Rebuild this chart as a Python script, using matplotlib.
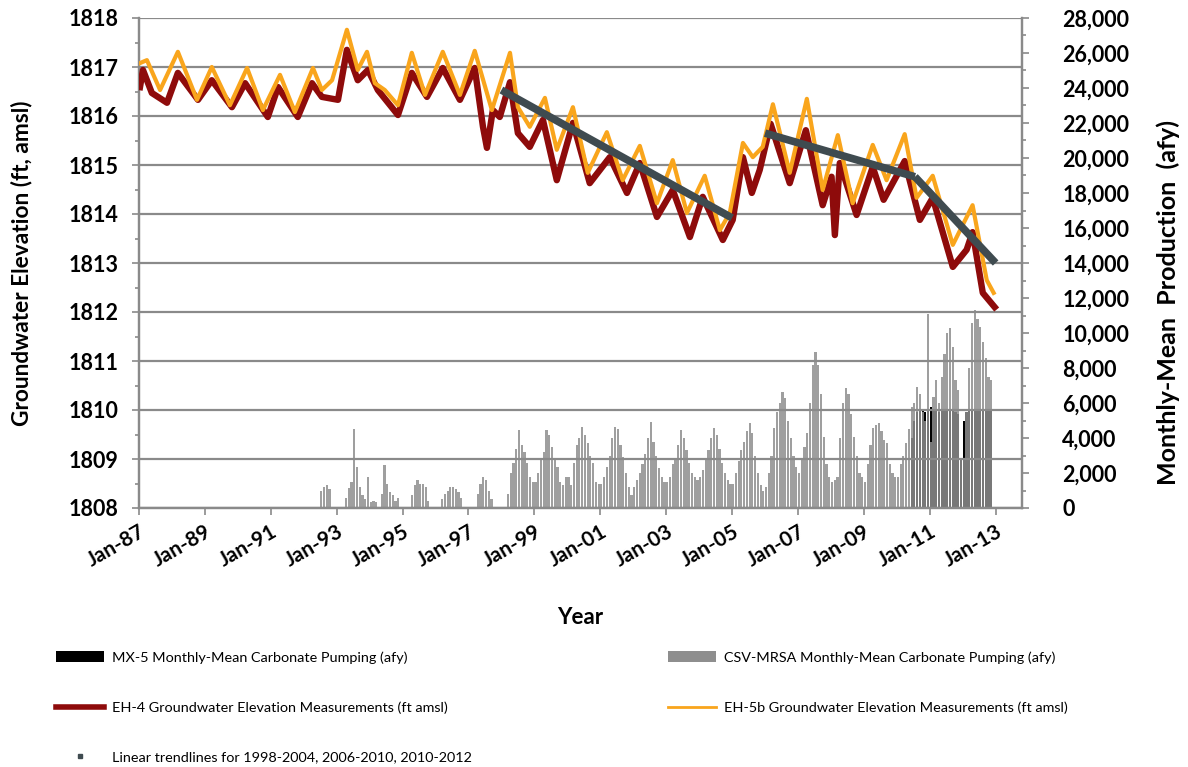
import matplotlib.pyplot as plt
from matplotlib.lines import Line2D
from matplotlib.patches import Patch
from matplotlib.ticker import FuncFormatter, MultipleLocator

plt.rcParams['font.family'] = ['Lato', 'DejaVu Sans']

# EH-4 groundwater elevation (decimal year, ft amsl)
eh4_years = [1987.03, 1987.12, 1987.39, 1987.85, 1988.18, 1988.79, 1989.21, 1989.82,
             1990.22, 1990.91, 1991.22, 1991.82, 1992.25, 1992.55, 1993.04, 1993.31,
             1993.64, 1993.95, 1994.25, 1994.86, 1995.28, 1995.74, 1996.22, 1996.74,
             1997.19, 1997.44, 1997.56, 1997.74, 1997.95, 1998.26, 1998.50, 1998.86,
             1999.26, 1999.68, 2000.17, 2000.68, 2001.29, 2001.81, 2002.20, 2002.72,
             2003.20, 2003.72, 2004.11, 2004.54, 2004.72, 2005.02, 2005.33, 2005.60,
             2005.84, 2006.17, 2006.75, 2007.24, 2007.75, 2008.02, 2008.12, 2008.27,
             2008.78, 2009.27, 2009.60, 2010.24, 2010.70, 2011.09, 2011.70, 2012.12,
             2012.30, 2012.61, 2012.97]
eh4_elev = [1816.59, 1816.94, 1816.47, 1816.27, 1816.88, 1816.33, 1816.73, 1816.18,
            1816.67, 1815.98, 1816.59, 1815.98, 1816.67, 1816.39, 1816.33, 1817.35,
            1816.73, 1816.94, 1816.53, 1816.02, 1816.88, 1816.39, 1816.98, 1816.33,
            1816.98, 1815.78, 1815.35, 1816.12, 1815.98, 1816.69, 1815.65, 1815.37,
            1815.92, 1814.69, 1815.86, 1814.63, 1815.16, 1814.43, 1815.04, 1813.94,
            1814.49, 1813.53, 1814.35, 1813.73, 1813.47, 1813.88, 1815.16, 1814.43,
            1814.90, 1815.84, 1814.63, 1815.71, 1814.18, 1814.76, 1813.57, 1815.04,
            1813.98, 1814.96, 1814.29, 1815.08, 1813.88, 1814.33, 1812.92, 1813.27,
            1813.63, 1812.39, 1812.10]

# EH-5b groundwater elevation (decimal year, ft amsl)
eh5b_years = [1987.03, 1987.24, 1987.64, 1988.18, 1988.76, 1989.21, 1989.76, 1990.28,
              1990.76, 1991.28, 1991.73, 1992.28, 1992.55, 1992.86, 1993.31, 1993.64,
              1993.92, 1994.16, 1994.46, 1994.86, 1995.28, 1995.68, 1996.22, 1996.74,
              1997.19, 1997.71, 1998.26, 1998.50, 1998.86, 1999.32, 1999.68, 2000.17,
              2000.62, 2001.20, 2001.68, 2002.20, 2002.72, 2003.20, 2003.63, 2004.17,
              2004.63, 2004.93, 2005.33, 2005.63, 2005.93, 2006.24, 2006.75, 2007.27,
              2007.75, 2008.21, 2008.66, 2009.27, 2009.69, 2010.24, 2010.60, 2011.09,
              2011.70, 2012.30, 2012.73, 2012.94]
eh5b_elev = [1817.08, 1817.14, 1816.53, 1817.31, 1816.33, 1817.00, 1816.22, 1816.98,
             1816.12, 1816.84, 1816.08, 1816.98, 1816.53, 1816.73, 1817.76, 1816.94,
             1817.31, 1816.67, 1816.53, 1816.22, 1817.29, 1816.43, 1817.31, 1816.43,
             1817.33, 1816.12, 1817.29, 1816.18, 1815.78, 1816.37, 1815.31, 1816.18,
             1814.84, 1815.67, 1814.69, 1815.39, 1814.22, 1815.10, 1814.02, 1814.78,
             1813.67, 1814.02, 1815.45, 1815.16, 1815.37, 1816.24, 1814.84, 1816.35,
             1814.49, 1815.61, 1814.22, 1815.41, 1814.69, 1815.63, 1814.33, 1814.78,
             1813.37, 1814.18, 1812.65, 1812.39]

# linear trendlines: 1998-2004, 2006-2010, 2010-2012
trend_years = [[1998.0, 2005.0], [2006.0, 2010.55], [2010.55, 2013.0]]
trend_elev = [[1816.53, 1813.92], [1815.65, 1814.76], [1814.76, 1813.0]]

# CSV-MRSA monthly-mean carbonate pumping (afy), Jan 1992 - Dec 2012
csv_start = 1992
csv_mrsa = [
    0, 0, 0, 0, 0, 0, 1000, 1200, 1300, 1100, 0, 0,                          # 1992
    0, 0, 0, 600, 1150, 1500, 4500, 2350, 1200, 750, 500, 1750,              # 1993
    350, 400, 350, 0, 800, 2450, 1400, 900, 750, 400, 600, 0,                # 1994
    0, 0, 0, 750, 1300, 1600, 1400, 1400, 1200, 400, 0, 0,                   # 1995
    0, 0, 500, 800, 1000, 1200, 1200, 1100, 900, 600, 0, 0,                  # 1996
    0, 0, 0, 800, 1400, 1750, 1600, 1000, 500, 0, 0, 0,                      # 1997
    0, 0, 800, 2000, 2550, 3400, 4450, 3600, 3200, 2550, 1800, 1500,         # 1998
    1500, 2000, 2750, 3200, 4450, 4200, 3500, 2800, 2350, 1500, 1300, 1750,  # 1999
    1800, 1300, 2600, 3600, 4000, 4650, 4200, 3700, 3000, 2550, 1500, 1400,  # 2000
    1400, 1800, 2350, 3000, 4000, 4650, 4500, 3600, 2900, 2000, 1200, 750,   # 2001
    1200, 1600, 2000, 2500, 3100, 4000, 4900, 3800, 3000, 2300, 1750, 1500,  # 2002
    1500, 1800, 2500, 2750, 3600, 4450, 4000, 3300, 2600, 2000, 1750, 1600,  # 2003
    1800, 2200, 2750, 3300, 4000, 4550, 4200, 3400, 2600, 2000, 1600, 1400,  # 2004
    1400, 2000, 2700, 3300, 3800, 4400, 4850, 4300, 3000, 2000, 1300, 1000,  # 2005
    1200, 2000, 3000, 4600, 5500, 6000, 6650, 6300, 5000, 4000, 3000, 2350,  # 2006
    2000, 2800, 3500, 4300, 6000, 8200, 8900, 8150, 6500, 4050, 2500, 1800,  # 2007
    1500, 1600, 1750, 4000, 6000, 6850, 6500, 5400, 4050, 3000, 2000, 1750,  # 2008
    1500, 2500, 3600, 4600, 4750, 4850, 4400, 3900, 3700, 2500, 2000, 1750,  # 2009
    1750, 2500, 3000, 3700, 4500, 5800, 6000, 6900, 6500, 5500, 5000, 11100, # 2010
    3800, 6350, 7300, 6000, 7500, 8800, 10000, 10300, 9200, 7300, 6750, 2750, # 2011
    2750, 5500, 8000, 10550, 11300, 10800, 10350, 9500, 8550, 7500, 7300, 0,  # 2012
]

# MX-5 monthly-mean carbonate pumping (afy), Jan 2010 - Dec 2012
mx5_start = 2010
mx5 = [
    0, 0, 0, 0, 0, 4000, 5000, 5500, 5600, 5600, 5500, 5600,                 # 2010
    5800, 5600, 5600, 5500, 5600, 5600, 5600, 5600, 5600, 5500, 5400, 2800,  # 2011
    5000, 5500, 5600, 5600, 5600, 5600, 5600, 5600, 5600, 5600, 5600, 0,     # 2012
]

tick_years = list(range(1987, 2014, 2))
tick_labels = ['Jan-87', 'Jan-89', 'Jan-91', 'Jan-93', 'Jan-95', 'Jan-97', 'Jan-99',
               'Jan-01', 'Jan-03', 'Jan-05', 'Jan-07', 'Jan-09', 'Jan-11', 'Jan-13']

grid_gray = '#8a8a8a'
red = '#8e0b0b'
orange = '#f9a51c'
trend_col = '#3f4b50'
bar_gray = '#8e8e8e'

fig = plt.figure(figsize=(11.88, 7.67), dpi=100)
ax = fig.add_axes([139 / 1188, 1 - 508 / 767, 883 / 1188, 490 / 767])
ax2 = ax.twinx()

# pumping bars on the right-hand axis, behind the water levels
csv_x = [csv_start + i / 12 for i in range(len(csv_mrsa))]
mx5_x = [mx5_start + i / 12 for i in range(len(mx5))]
ax2.bar(mx5_x, mx5, width=0.8 / 12, color='black', align='edge', zorder=1)
ax2.bar(csv_x, csv_mrsa, width=0.8 / 12, color=bar_gray, alpha=0.85,
        align='edge', zorder=2)
ax2.set_ylim(0, 28000)
ax2.yaxis.set_major_locator(MultipleLocator(2000))
ax2.yaxis.set_minor_locator(MultipleLocator(1000))
ax2.yaxis.set_major_formatter(FuncFormatter(lambda v, p: f'{v:,.0f}'))

ax.set_zorder(ax2.get_zorder() + 1)
ax.patch.set_visible(False)

ax.plot(eh4_years, eh4_elev, color=red, lw=4.6, solid_joinstyle='round', zorder=3)
ax.plot(eh5b_years, eh5b_elev, color=orange, lw=3.0, solid_joinstyle='round', zorder=4)
for ty, te in zip(trend_years, trend_elev):
    ax.plot(ty, te, color=trend_col, lw=5.5, solid_capstyle='butt', zorder=5)

ax.set_xlim(1987, 2013.8)
ax.set_ylim(1808, 1818)
ax.set_yticks(range(1808, 1819))
ax.yaxis.set_minor_locator(MultipleLocator(0.5))
ax.grid(axis='y', color=grid_gray, lw=1.6)
ax.set_xticks(tick_years)
ax.set_xticklabels(tick_labels, rotation=30, ha='right', va='top',
                   rotation_mode='anchor', fontweight='bold', fontsize=15)

for a in (ax, ax2):
    a.spines['top'].set_visible(False)
    for side in ('left', 'right', 'bottom'):
        a.spines[side].set_color(grid_gray)
        a.spines[side].set_linewidth(1.6)
    a.tick_params(which='both', color=grid_gray, width=1.2, direction='out')
    a.tick_params(which='major', length=5)
    a.tick_params(which='minor', length=3)
    a.tick_params(axis='y', labelsize=15.5)
    for lbl in a.get_yticklabels():
        lbl.set_fontweight('bold')
ax.tick_params(axis='y', pad=10)
ax2.tick_params(axis='y', pad=24)
ax.tick_params(axis='x', pad=5)

ax.set_ylabel('Groundwater Elevation (ft, amsl)', fontsize=16.3, fontweight='bold',
              labelpad=26)
ax2.set_ylabel('Monthly-Mean  Production  (afy)', fontsize=18, fontweight='bold')
ax2.yaxis.set_label_coords(1.152, 0.42)
ax.set_xlabel('Year', fontsize=16, fontweight='bold', labelpad=26)

# legend in two columns below the plot
h_mx5 = Patch(facecolor='black')
h_csv = Patch(facecolor=bar_gray)
h_eh4 = Line2D([], [], color=red, lw=4)
h_eh5 = Line2D([], [], color=orange, lw=2)
h_trend = Line2D([], [], ls='none', marker='s', ms=3, color=trend_col)

leg_kw = dict(frameon=False, fontsize=10.4, handlelength=3.3, handletextpad=0.6,
              labelspacing=2.6, borderpad=0, borderaxespad=0, loc='upper left')
leg1 = fig.legend([h_mx5, h_eh4, h_trend],
                  ['MX-5 Monthly-Mean Carbonate Pumping (afy)',
                   'EH-4 Groundwater Elevation Measurements (ft amsl)',
                   'Linear trendlines for 1998-2004, 2006-2010, 2010-2012'],
                  bbox_to_anchor=(56 / 1188, 1 - 651 / 767), **leg_kw)
leg2 = fig.legend([h_csv, h_eh5],
                  ['CSV-MRSA Monthly-Mean Carbonate Pumping (afy)',
                   'EH-5b Groundwater Elevation Measurements (ft amsl)'],
                  bbox_to_anchor=(668 / 1188, 1 - 651 / 767), **leg_kw)

fig.savefig('out.png', dpi=100)
